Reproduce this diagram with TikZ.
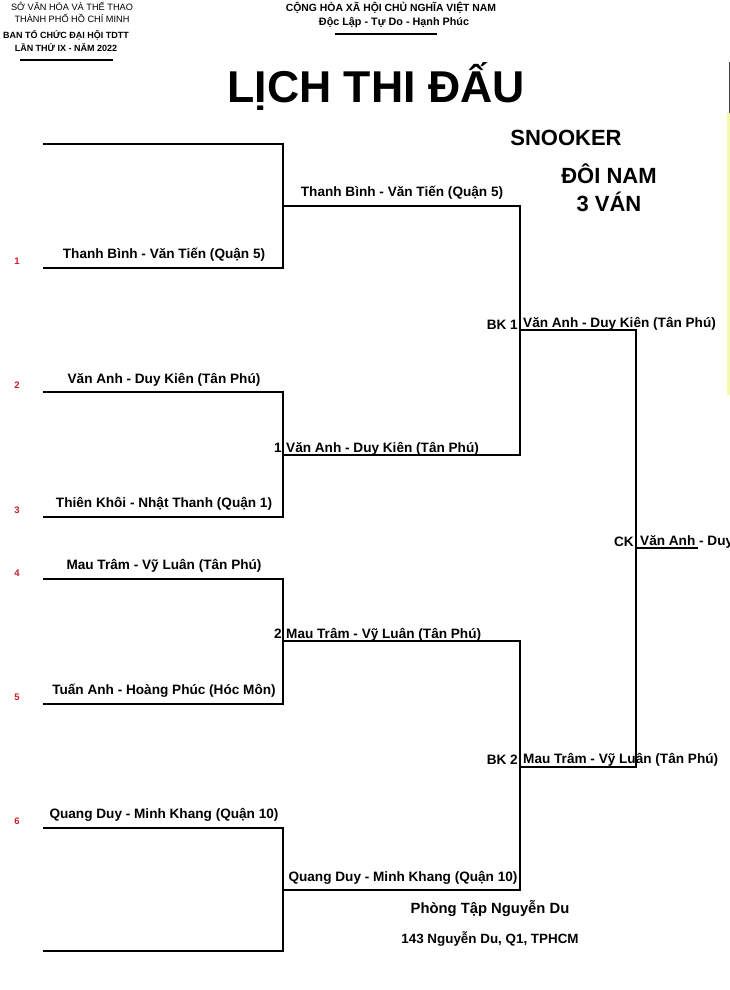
\documentclass[tikz,border=0pt]{standalone}
\usepackage{fontspec}
\setmainfont{Liberation Sans}
\definecolor{seedred}{RGB}{200,30,40}
\definecolor{edgeyellow}{RGB}{245,250,170}
\begin{document}
\begin{tikzpicture}[x=1pt,y=-1pt,
  br/.style={line width=1.3pt,line cap=rect},
  team/.style={font=\bfseries\fontsize{13.6}{15}\selectfont,inner sep=0pt,anchor=base},
  teamw/.style={font=\bfseries\fontsize{13.6}{15}\selectfont,inner sep=0pt,anchor=base west},
  seed/.style={font=\bfseries\fontsize{9.5}{10}\selectfont,text=seedred,inner sep=0pt},
  rnd/.style={font=\bfseries\fontsize{13.6}{15}\selectfont,inner sep=0pt,anchor=base east},
  hdr/.style={inner sep=0pt,anchor=base},
  big/.style={font=\bfseries\fontsize{22}{24}\selectfont,inner sep=0pt,anchor=base}]
\useasboundingbox (0,0) rectangle (730,990);
% right edge remnant
\fill[edgeyellow] (726.5,113) rectangle (730,395);
\draw[line width=1.2pt,black!75] (729.4,62) -- (729.4,113);
% header
\node[hdr,font=\fontsize{9.2}{10}\selectfont] (h1) at (72,11) {SỞ VĂN HÓA VÀ THỂ THAO};
\node[hdr,font=\fontsize{9.2}{10}\selectfont] (h2) at (72,23) {THÀNH PHỐ HỒ CHÍ MINH};
\node[hdr,font=\bfseries\fontsize{9}{10}\selectfont] (h3) at (66,38) {BAN TỔ CHỨC ĐẠI HỘI TDTT};
\node[hdr,font=\bfseries\fontsize{9}{10}\selectfont] (h4) at (66,52) {LẦN THỨ IX - NĂM 2022};
\coordinate (r1a) at (20,60); \coordinate (r1b) at (113,60);
\draw[line width=1.8pt] (r1a) -- (r1b);
\node[hdr,font=\bfseries\fontsize{10.4}{11}\selectfont] (n1) at (391,12) {CỘNG HÒA XÃ HỘI CHỦ NGHĨA VIỆT NAM};
\node[hdr,font=\bfseries\fontsize{10.8}{11}\selectfont] (n2) at (394,26) {Độc Lập - Tự Do - Hạnh Phúc};
\coordinate (r2a) at (335,34); \coordinate (r2b) at (437,34);
\draw[line width=1.8pt] (r2a) -- (r2b);
\node[inner sep=0pt,anchor=base,font=\bfseries\fontsize{44.6}{48}\selectfont] (title) at (376,102) {LỊCH THI ĐẤU};
\node[big] (sn) at (566,145) {SNOOKER};
\node[big] (dn) at (609,183) {ĐÔI NAM};
\node[big] (v3) at (609,211) {3 VÁN};
% coordinates of bracket
\foreach \i/\y in {0/144,1/268,2/392,3/517,4/579,5/704,6/828,7/951}{
  \coordinate (L\i) at (44,\y); \coordinate (R\i) at (283,\y);}
\coordinate (A1) at (283,206); \coordinate (B1) at (520,206);
\coordinate (A2) at (283,455); \coordinate (B2) at (520,455);
\coordinate (A3) at (283,641); \coordinate (B3) at (520,641);
\coordinate (A4) at (283,890); \coordinate (B4) at (520,890);
\coordinate (S1a) at (520,330); \coordinate (S1b) at (636,330);
\coordinate (S2a) at (520,767); \coordinate (S2b) at (636,767);
\coordinate (Fa) at (636,548); \coordinate (Fb) at (697,548);
% lines
\foreach \i in {0,...,7}{\draw[br] (L\i) -- (R\i);}
\draw[br] (R0) -- (R1); \draw[br] (R2) -- (R3); \draw[br] (R4) -- (R5); \draw[br] (R6) -- (R7);
\draw[br] (A1) -- (B1); \draw[br] (A2) -- (B2); \draw[br] (A3) -- (B3); \draw[br] (A4) -- (B4);
\draw[br] (B1) -- (B2); \draw[br] (B3) -- (B4);
\draw[br] (S1a) -- (S1b); \draw[br] (S2a) -- (S2b);
\draw[br] (S1b) -- (S2b);
\draw[br] (Fa) -- (Fb);
% round 1 labels
\node[team] (t1) at (164,258) {Thanh Bình - Văn Tiến (Quận 5)};
\node[team] (t2) at (164,383) {Văn Anh - Duy Kiên (Tân Phú)};
\node[team] (t3) at (164,507) {Thiên Khôi - Nhật Thanh (Quận 1)};
\node[team] (t4) at (164,569) {Mau Trâm - Vỹ Luân (Tân Phú)};
\node[team] (t5) at (164,694) {Tuấn Anh - Hoàng Phúc (Hóc Môn)};
\node[team] (t6) at (164,818) {Quang Duy - Minh Khang (Quận 10)};
% seeds
\node[seed] (s1) at (17,261) {1};
\node[seed] (s2) at (17,385) {2};
\node[seed] (s3) at (17,510) {3};
\node[seed] (s4) at (17,573) {4};
\node[seed] (s5) at (17,697) {5};
\node[seed] (s6) at (17,821) {6};
% round 2
\node[team] (w1) at (402,196) {Thanh Bình - Văn Tiến (Quận 5)};
\node[teamw] (w2) at (286,452) {Văn Anh - Duy Kiên (Tân Phú)};
\node[rnd] (m1) at (282,452) {1};
\node[teamw] (w3) at (286,638) {Mau Trâm - Vỹ Luân (Tân Phú)};
\node[rnd] (m2) at (282,638) {2};
\node[team] (w4) at (403,881) {Quang Duy - Minh Khang (Quận 10)};
% semis
\node[teamw] (b1) at (523,327) {Văn Anh - Duy Kiên (Tân Phú)};
\node[rnd] (bk1) at (518,329) {BK 1};
\node[teamw] (b2) at (523,763) {Mau Trâm - Vỹ Luân (Tân Phú)};
\node[rnd] (bk2) at (518,764) {BK 2};
% final (cut at the right edge as in the reference)
\begin{scope}
\clip (600,520) rectangle (730,560);
\node[teamw] (f1) at (640,545) {Văn Anh - Duy};
\end{scope}
\node[rnd] (ck) at (634,546) {CK};
% venue
\node[hdr,font=\bfseries\fontsize{14.8}{16}\selectfont] (p1) at (490,913) {Phòng Tập Nguyễn Du};
\node[hdr,font=\bfseries\fontsize{13.4}{15}\selectfont] (p2) at (490,943) {143 Nguyễn Du, Q1, TPHCM};
\end{tikzpicture}
\end{document}
